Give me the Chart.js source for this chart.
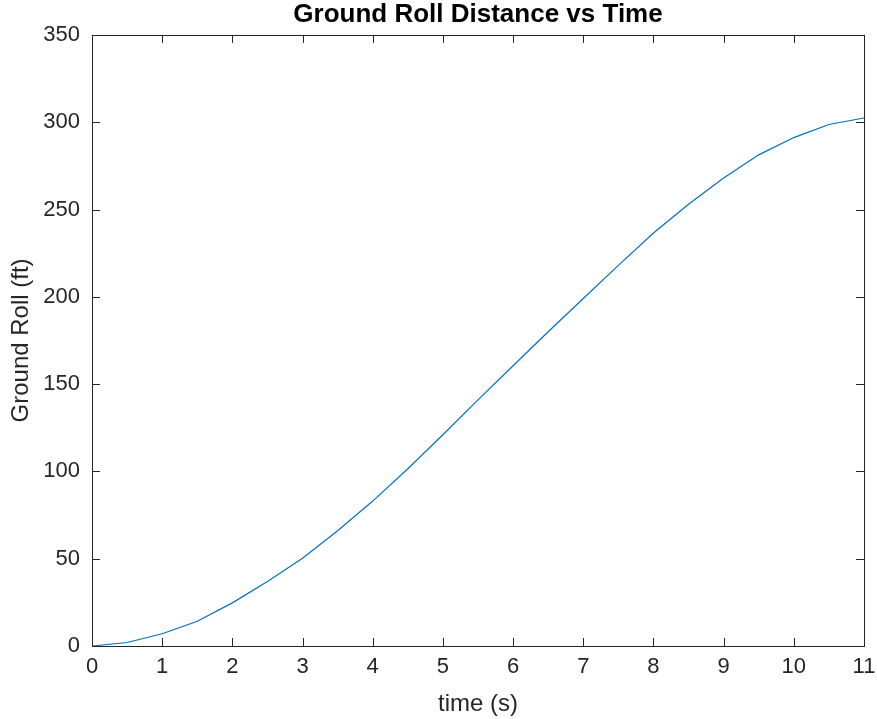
<!DOCTYPE html>
<html>
<head>
<meta charset="utf-8">
<script src="https://cdn.jsdelivr.net/npm/chart.js@4"></script>
<style>
  html, body { margin: 0; padding: 0; background: #fff; }
  #wrap { width: 877px; height: 719px; }
</style>
</head>
<body>
<div id="wrap"><canvas id="groundRollChart"></canvas></div>
<script>
const timeS = [0, 0.5, 1, 1.5, 2, 2.5, 3, 3.5, 4, 4.5, 5, 5.5, 6, 6.5, 7, 7.5, 8, 8.5, 9, 9.5, 10, 10.5, 11];
const groundRollFt = [0, 2, 7, 14.2, 24.7, 37, 50.3, 66, 83, 101.5, 121, 141, 160.5, 180, 199, 218, 236.5, 253, 268, 281.3, 291.2, 298.7, 302.4];
const xTicks = [0, 1, 2, 3, 4, 5, 6, 7, 8, 9, 10, 11];
const yTicks = [0, 50, 100, 150, 200, 250, 300, 350];

const FONT = '"Liberation Sans", Arial, Helvetica, sans-serif';
const AXIS_COLOR = '#262626';

// matlab style box with inward ticks on all four sides
const boxTicks = {
    id: 'boxTicks',
    afterLayout(chart) {
        // center the title over the plot box, not the whole canvas
        if (chart.titleBlock) {
            chart.titleBlock.left = chart.chartArea.left;
            chart.titleBlock.right = chart.chartArea.right;
        }
    },
    afterDraw(chart) {
        const {ctx, chartArea: a, scales} = chart;
        const len = 8;
        ctx.save();
        ctx.strokeStyle = AXIS_COLOR;
        ctx.lineWidth = 1;
        ctx.beginPath();
        xTicks.forEach(v => {
            const px = Math.round(scales.x.getPixelForValue(v)) + 0.5;
            ctx.moveTo(px, a.bottom); ctx.lineTo(px, a.bottom - len);
            ctx.moveTo(px, a.top); ctx.lineTo(px, a.top + len);
        });
        yTicks.forEach(v => {
            const py = Math.round(scales.y.getPixelForValue(v)) + 0.5;
            ctx.moveTo(a.left, py); ctx.lineTo(a.left + len, py);
            ctx.moveTo(a.right, py); ctx.lineTo(a.right - len, py);
        });
        ctx.stroke();
        ctx.strokeRect(Math.round(a.left) + 0.5, Math.round(a.top) + 0.5,
            Math.round(a.right - a.left), Math.round(a.bottom - a.top));
        ctx.restore();
    }
};

const ctx = document.getElementById('groundRollChart').getContext('2d');

new Chart(ctx, {
    type: 'line',
    data: {
        datasets: [{
            data: timeS.map((t, i) => ({x: t, y: groundRollFt[i]})),
            borderColor: '#0072BD',
            borderWidth: 1.2,
            pointRadius: 0,
            tension: 0,
            fill: false
        }]
    },
    options: {
        responsive: true,
        maintainAspectRatio: false,
        animation: false,
        layout: {padding: {left: 0, right: 13, top: 0, bottom: 0}},
        plugins: {
            legend: {display: false},
            tooltip: {enabled: false},
            title: {
                display: true,
                text: 'Ground Roll Distance vs Time',
                color: '#000',
                font: {family: FONT, size: 26, weight: 'bold', lineHeight: 1.15},
                padding: {top: 0, bottom: 5}
            }
        },
        scales: {
            x: {
                type: 'linear',
                min: 0,
                max: 11,
                afterFit(scale) {
                    scale.height = 73;
                    scale.paddingLeft = 0;
                    scale.paddingRight = 0;
                },
                afterBuildTicks(scale) { scale.ticks = xTicks.map(v => ({value: v})); },
                grid: {display: false, drawTicks: false},
                border: {display: false},
                ticks: {color: AXIS_COLOR, font: {family: FONT, size: 22}, padding: 8, maxRotation: 0},
                title: {display: true, text: 'time (s)', color: AXIS_COLOR,
                    font: {family: FONT, size: 24}, padding: {top: 0, bottom: 0}}
            },
            y: {
                min: 0,
                max: 350,
                afterFit(scale) {
                    scale.width = 92;
                    scale.paddingTop = 0;
                    scale.paddingBottom = 0;
                },
                afterBuildTicks(scale) { scale.ticks = yTicks.map(v => ({value: v})); },
                grid: {display: false, drawTicks: false},
                border: {display: false},
                ticks: {color: AXIS_COLOR, font: {family: FONT, size: 22}, padding: 12},
                title: {display: true, text: 'Ground Roll (ft)', color: AXIS_COLOR,
                    font: {family: FONT, size: 24}, padding: {top: 7, bottom: 0}}
            }
        }
    },
    plugins: [boxTicks]
});
</script>
</body>
</html>
